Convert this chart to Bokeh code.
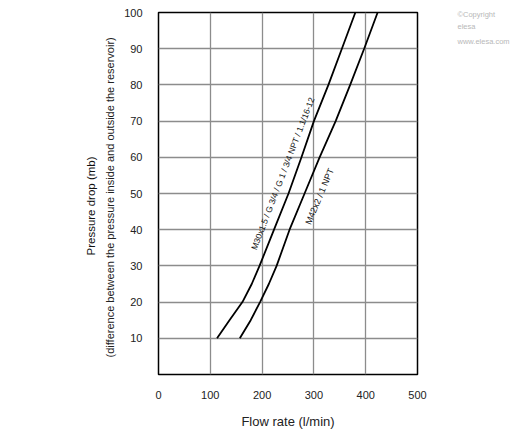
from bokeh.plotting import figure
from bokeh.models import Range1d, FixedTicker, Label, Title, LinearAxis
from bokeh.embed import file_html
from bokeh.resources import INLINE

# Data
dp_m30 = [10, 15, 20, 25, 30, 40, 50, 60, 70, 80, 90, 100]
flow_m30 = [113, 137, 162, 180, 195, 223, 251, 276, 300, 328, 354, 380]
dp_m42 = [10, 15, 20, 25, 30, 40, 50, 60, 70, 80, 90, 100]
flow_m42 = [157, 178, 196, 213, 228, 253, 282, 311, 342, 370, 397, 423]
x_ticks = [0, 100, 200, 300, 400, 500]
y_ticks = [10, 20, 30, 40, 50, 60, 70, 80, 90, 100]
label_m30 = "M30x1.5 / G 3/4 / G 1 / 3/4 NPT / 1.1/16-12"
label_m42 = "M42x2 / 1 NPT"
watermark_lines = ["\u00a9Copyright", "elesa", "www.elesa.com"]
watermark_pos = [99.5, 96.0, 92.0]

FONT = "Liberation Sans"
TXT = "#222222"

p = figure(width=512, height=430, output_backend="svg", toolbar_location=None,
           x_range=Range1d(0, 500), y_range=Range1d(0, 100),
           min_border_left=158, min_border_right=95, min_border_top=12, min_border_bottom=56)
p.frame_width = 259
p.frame_height = 362
p.outline_line_color = "black"
p.outline_line_width = 1.5
p.background_fill_color = "white"
p.border_fill_color = "white"

for ax in (p.xaxis[0], p.yaxis[0]):
    ax.axis_line_color = None
    ax.major_tick_line_color = None
    ax.minor_tick_line_color = None
    ax.major_label_text_font = FONT
    ax.major_label_text_font_size = "11px"
    ax.major_label_text_color = TXT
    ax.major_label_standoff = 10
p.xaxis.ticker = FixedTicker(ticks=x_ticks)
p.yaxis.ticker = FixedTicker(ticks=y_ticks)
p.xaxis.axis_label = "Flow rate (l/min)"
p.xaxis.axis_label_text_font = FONT
p.xaxis.axis_label_text_font_size = "13px"
p.xaxis.axis_label_text_font_style = "normal"
p.xaxis.axis_label_text_color = TXT
p.xaxis.axis_label_standoff = 12
p.xgrid.ticker = FixedTicker(ticks=[100, 200, 300, 400])
p.ygrid.ticker = FixedTicker(ticks=[10, 20, 30, 40, 50, 60, 70, 80, 90])
for g in (p.xgrid[0], p.ygrid[0]):
    g.grid_line_color = "#8c8c8c"
    g.grid_line_width = 1.3

# y axis label (two lines) as left titles
t2 = Title(text="(difference between the pressure inside and outside the reservoir)",
           align="left", offset=17, text_font=FONT, text_font_size="11px",
           text_font_style="normal", text_color=TXT, standoff=11)
p.add_layout(t2, "left")
t1 = Title(text="Pressure drop (mb)", align="left", offset=119, text_font=FONT,
           text_font_size="11.5px", text_font_style="normal", text_color="#111111",
           standoff=0)
p.add_layout(t1, "left")

# watermark as a right-side axis without line/ticks
wm = LinearAxis(ticker=FixedTicker(ticks=watermark_pos),
                major_label_overrides={v: t for v, t in zip(watermark_pos, watermark_lines)},
                axis_line_color=None, major_tick_line_color=None, minor_tick_line_color=None,
                major_label_standoff=34, major_label_text_font=FONT,
                major_label_text_font_size="7.5px", major_label_text_font_style="normal",
                major_label_text_color="#b8b8b8")
p.add_layout(wm, "right")

p.line(flow_m30, dp_m30, line_color="black", line_width=1.8)
p.line(flow_m42, dp_m42, line_color="black", line_width=1.8)
p.add_layout(Label(x=240, y=55.5, text=label_m30, angle=69, angle_units="deg",
                   text_align="center", text_baseline="middle", text_font=FONT,
                   text_font_size="8.5px", text_color="#111111"))
p.add_layout(Label(x=311, y=49.2, text=label_m42, angle=67, angle_units="deg",
                   text_align="center", text_baseline="middle", text_font=FONT,
                   text_font_size="9px", text_color="#111111"))

open("out.html", "w").write(file_html(p, INLINE))
